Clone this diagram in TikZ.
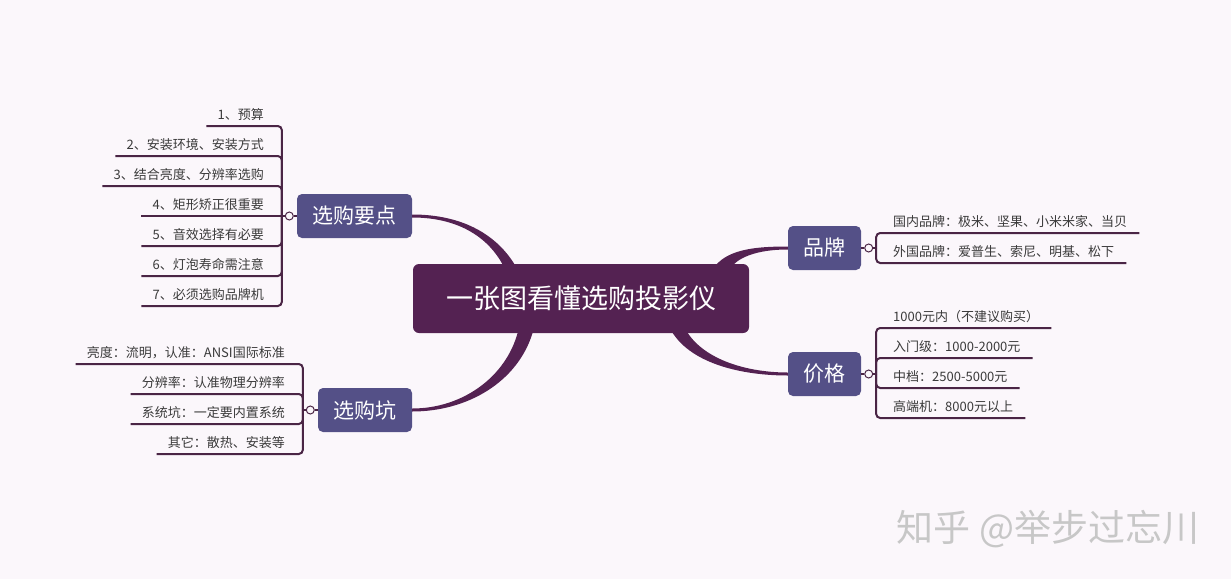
\documentclass[tikz,border=0pt]{standalone}
\usepackage{fontspec}
\setmainfont{Noto Sans CJK SC}
\usepackage{tikz}
\usetikzlibrary{positioning, calc}
\usepackage{xcolor}
\definecolor{bgc}{HTML}{FBF7FB}
\definecolor{rootc}{HTML}{542252}
\definecolor{topicc}{HTML}{545087}
\definecolor{linec}{HTML}{4A2545}
\definecolor{textc}{HTML}{3A3A3A}
\tikzstyle{root} = [rectangle, rounded corners=6pt, fill=rootc, text=white, minimum width=336pt, minimum height=69pt, font=\fontsize{27}{30}\selectfont]
\tikzstyle{topic} = [rectangle, rounded corners=5pt, fill=topicc, text=white, minimum height=44pt, inner xsep=15.5pt, font=\fontsize{21}{24}\selectfont]
\tikzstyle{knob} = [circle, draw=linec, line width=1pt, fill=bgc, minimum size=8pt, inner sep=0pt]
\tikzstyle{itemL} = [anchor=south east, inner xsep=0pt, inner ysep=4pt, text depth=2pt, text=textc, font=\fontsize{13}{15}\selectfont]
\tikzstyle{itemR} = [itemL, anchor=south west]
\tikzstyle{link} = [draw=linec, line width=2pt, rounded corners=4pt]
\tikzstyle{trunk} = [fill=rootc]
\tikzstyle{wmark} = [text=black!22, font=\fontsize{37}{40}\selectfont]

\begin{document}
\begin{tikzpicture}[x=1pt, y=-1pt]
  \fill[bgc] (0,0) rectangle (1231,579);
  \useasboundingbox (0,0) rectangle (1231,579);

  % main topics
  \node[root] (root) at (581,298.5) {一张图看懂选购投影仪};
  \node[topic] (yd) at (354.5,216) {选购要点};
  \node[topic] (kk) at (365,410) {选购坑};
  \node[topic] (pp) at (824.5,248) {品牌};
  \node[topic] (jg) at (824.5,374) {价格};

  % tapered branches
  \fill[trunk] ([yshift=1.5pt]yd.east) .. controls +(53,0) and +(-17,-28) .. ($(root.north west)+(102,1)$)
    -- ($(root.north west)+(90,1)$) .. controls +(-14,-26) and +(48,0) .. ([yshift=-1.5pt]yd.east) -- cycle;
  \fill[trunk] ($(root.south west)+(120,-1)$) .. controls +(-15,50) and +(55,0) .. ([yshift=-1.5pt]kk.east)
    -- ([yshift=1.5pt]kk.east) .. controls +(50,0) and +(-12,45) .. ($(root.south west)+(105,-1)$) -- cycle;
  \fill[trunk] ([yshift=1.5pt]pp.west) .. controls +(-30,0) and +(14,-16) .. ($(root.north east)+(-33,1)$)
    -- ($(root.north east)+(-16,1)$) .. controls +(10,-10) and +(-25,0) .. ([yshift=-1.5pt]pp.west) -- cycle;
  \fill[trunk] ($(root.south east)+(-77,-1)$) .. controls +(20,32) and +(-45,0) .. ([yshift=-1.5pt]jg.west)
    -- ([yshift=1.5pt]jg.west) .. controls +(-40,0) and +(18,28) .. ($(root.south east)+(-62,-1)$) -- cycle;

  % collapse knobs
  \node[knob, left=3pt of yd] (yd-k) {};
  \node[knob, left=3pt of kk] (kk-k) {};
  \node[knob, right=3pt of pp] (pp-k) {};
  \node[knob, right=3pt of jg] (jg-k) {};
  \coordinate[left=3pt of yd-k] (yd-j);
  \coordinate[left=3pt of kk-k] (kk-j);
  \coordinate[right=3pt of pp-k] (pp-j);
  \coordinate[right=3pt of jg-k] (jg-j);

  \draw[link] (yd-j) -- (yd-k);
  \draw[link] (yd-k) -- (yd);
  \draw[link] (kk-j) -- (kk-k);
  \draw[link] (kk-k) -- (kk);
  \draw[link] (pp-j) -- (pp-k);
  \draw[link] (pp-k) -- (pp);
  \draw[link] (jg-j) -- (jg-k);
  \draw[link] (jg-k) -- (jg);

  % 选购要点
  \node[itemL] (yd1) at (264,126) {1、预算};
  \node[itemL] (yd2) at (264,156) {2、安装环境、安装方式};
  \node[itemL] (yd3) at (264,186) {3、结合亮度、分辨率选购};
  \node[itemL] (yd4) at (264,216) {4、矩形矫正很重要};
  \node[itemL] (yd5) at (264,246) {5、音效选择有必要};
  \node[itemL] (yd6) at (264,276) {6、灯泡寿命需注意};
  \node[itemL] (yd7) at (264,306) {7、必须选购品牌机};

  \draw[link] (yd-j) |- ([xshift=-11pt]yd1.south west);
  \draw[link] (yd-j) |- ([xshift=-11pt]yd2.south west);
  \draw[link] (yd-j) |- ([xshift=-11pt]yd3.south west);
  \draw[link] (yd-j) -- ([xshift=-11pt]yd4.south west);
  \draw[link] (yd-j) |- ([xshift=-11pt]yd5.south west);
  \draw[link] (yd-j) |- ([xshift=-11pt]yd6.south west);
  \draw[link] (yd-j) |- ([xshift=-11pt]yd7.south west);

  % 选购坑
  \node[itemL] (kk1) at (285,364) {亮度：流明，认准：ANSI国际标准};
  \node[itemL] (kk2) at (285,394) {分辨率：认准物理分辨率};
  \node[itemL] (kk3) at (285,424) {系统坑：一定要内置系统};
  \node[itemL] (kk4) at (285,454) {其它：散热、安装等};

  \draw[link] (kk-j) |- ([xshift=-11pt]kk1.south west);
  \draw[link] (kk-j) |- ([xshift=-11pt]kk2.south west);
  \draw[link] (kk-j) |- ([xshift=-11pt]kk3.south west);
  \draw[link] (kk-j) |- ([xshift=-11pt]kk4.south west);

  % 品牌
  \node[itemR] (pp1) at (893,233) {国内品牌：极米、坚果、小米米家、当贝};
  \node[itemR] (pp2) at (893,263) {外国品牌：爱普生、索尼、明基、松下};

  \draw[link] (pp-j) |- ([xshift=12pt]pp1.south east);
  \draw[link] (pp-j) |- ([xshift=12pt]pp2.south east);

  % 价格
  \node[itemR] (jg1) at (893,328) {1000元内（不建议购买）};
  \node[itemR] (jg2) at (893,358) {入门级：1000-2000元};
  \node[itemR] (jg3) at (893,388) {中档：2500-5000元};
  \node[itemR] (jg4) at (893,418) {高端机：8000元以上};

  \draw[link] (jg-j) |- ([xshift=12pt]jg1.south east);
  \draw[link] (jg-j) |- ([xshift=12pt]jg2.south east);
  \draw[link] (jg-j) |- ([xshift=12pt]jg3.south east);
  \draw[link] (jg-j) |- ([xshift=12pt]jg4.south east);

  \node[wmark] (wm) at (1048,529) {知乎 @举步过忘川};
\end{tikzpicture}
\end{document}
